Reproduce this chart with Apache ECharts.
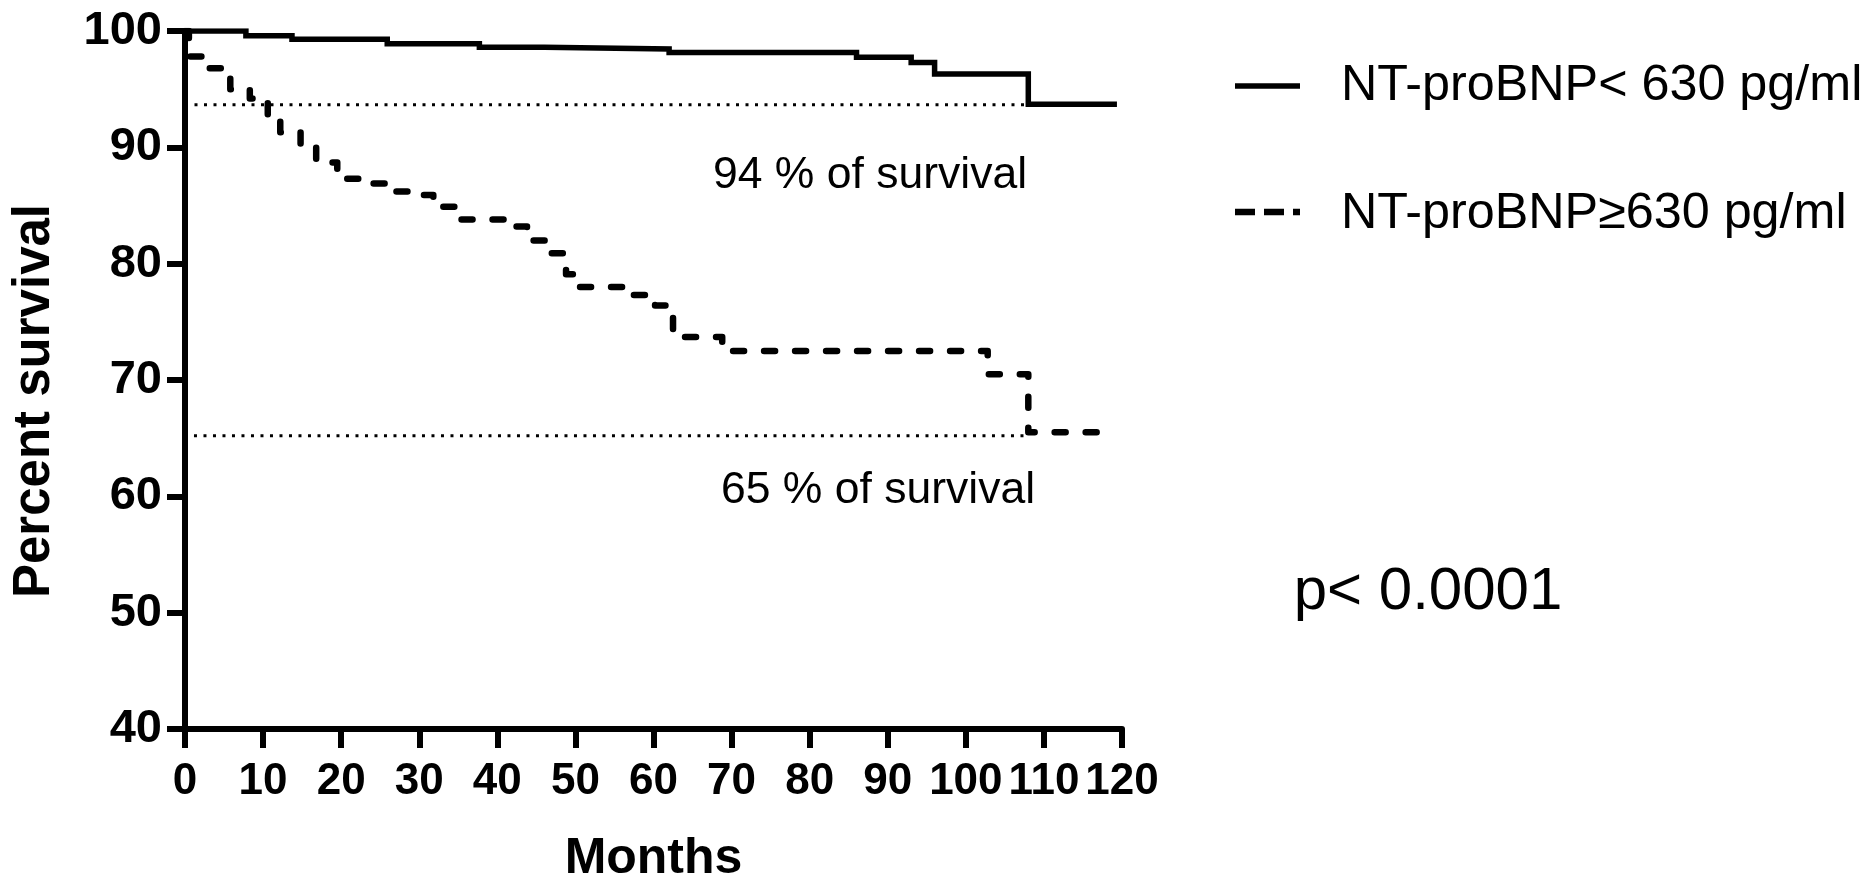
<!DOCTYPE html>
<html>
<head>
<meta charset="utf-8">
<script src="https://cdn.jsdelivr.net/npm/echarts@6/dist/echarts.min.js"></script>
<style>
html,body{margin:0;padding:0;background:#fff;}
#chart{width:1873px;height:889px;}
</style>
</head>
<body>
<div id="chart"></div>
<script>
// ---- data ----
const seriesNames = ['NT-proBNP< 630 pg/ml', 'NT-proBNP\u2265630 pg/ml'];
const lowTimes = [0, 7.8, 13.7, 25.9, 37.7, 46, 62, 86, 93, 96, 108, 119];
const lowSurv  = [100, 99.6, 99.3, 98.9, 98.6, 98.45, 98.15, 97.75, 97.3, 96.3, 93.7, 93.7];
const highTimes = [0, 0.5, 3.0, 5.8, 8.3, 10.6, 12.2, 14.8, 16.8, 19.5, 22.2, 25.9, 28.8, 31.8, 35.0, 41.6, 43.8, 46.5, 48.8, 50.3, 57.3, 60.2, 62.5, 68.8, 102.8, 108, 119];
const highSurv  = [100, 97.8, 96.8, 95.0, 94.2, 92.6, 91.3, 90.0, 88.7, 87.3, 86.9, 86.2, 85.9, 84.9, 83.8, 83.2, 82.0, 80.9, 79.1, 78.0, 77.3, 76.4, 73.7, 72.5, 70.5, 65.5, 65.5];
const refLowX = [0, 108];
const refLowY = [93.65, 93.65];
const refHighX = [-2.5, 108];
const refHighY = [65.2, 65.2];
const xTicks = {min: 0, max: 120, interval: 10};
const yTicks = {min: 40, max: 100, interval: 10};
const annotations = ['94 % of survival', '65 % of survival', 'p< 0.0001'];
const axisTitles = {x: 'Months', y: 'Percent survival'};

const zip = (xs, ys) => xs.map((x, i) => [x, ys[i]]);
const FONT = "'Liberation Sans', Arial, Helvetica, sans-serif";

// fit legend font size to the reference text width
const ctx = document.createElement('canvas').getContext('2d');
ctx.font = "100px " + FONT;
const w100 = ctx.measureText(seriesNames[0]).width;
const legendSize = Math.round(521 / w100 * 100 * 10) / 10;

const chart = echarts.init(document.getElementById('chart'), null, {renderer: 'canvas'});
const option = {
  animation: false,
  backgroundColor: '#fff',
  grid: {left: 185, top: 31, width: 937, height: 700, containLabel: false},
  xAxis: {
    type: 'value', min: xTicks.min, max: xTicks.max, interval: xTicks.interval,
    name: axisTitles.x, nameLocation: 'middle', nameGap: 105,
    nameTextStyle: {fontFamily: FONT, fontWeight: 'bold', fontSize: 50, color: '#000'},
    axisLine: {show: true, onZero: false, lineStyle: {color: '#000', width: 6}},
    axisTick: {show: true, length: 19, lineStyle: {color: '#000', width: 6}},
    axisLabel: {margin: 31, fontFamily: FONT, fontWeight: 'bold', fontSize: 44, color: '#000',
                showMinLabel: true, showMaxLabel: true, hideOverlap: false},
    splitLine: {show: false}
  },
  yAxis: {
    type: 'value', min: yTicks.min, max: yTicks.max, interval: yTicks.interval,
    axisLine: {show: true, onZero: false, lineStyle: {color: '#000', width: 6}},
    axisTick: {show: true, length: 18, lineStyle: {color: '#000', width: 6}},
    axisLabel: {margin: 23, fontFamily: FONT, fontWeight: 'bold', fontSize: 47, color: '#000',
                showMinLabel: true, showMaxLabel: true},
    splitLine: {show: false}
  },
  series: [
    {
      name: 'ref94', type: 'line', data: zip(refLowX, refLowY), symbol: 'none', clip: false, z: 1,
      lineStyle: {color: '#000', width: 3, type: [3, 6.5]}, silent: true
    },
    {
      name: 'ref65', type: 'line', data: zip(refHighX, refHighY), symbol: 'none', clip: false, z: 1,
      lineStyle: {color: '#000', width: 3, type: [3, 6.5]}, silent: true
    },
    {
      name: seriesNames[0], type: 'line', step: 'end', data: zip(lowTimes, lowSurv), symbol: 'none', z: 3,
      lineStyle: {color: '#000', width: 5.5, cap: 'square', join: 'miter'}
    },
    {
      name: seriesNames[1], type: 'line', step: 'end', data: zip(highTimes, highSurv), symbol: 'none', z: 3,
      lineStyle: {color: '#000', width: 6.5, type: [11, 20], cap: 'round', join: 'round'}
    }
  ],
  graphic: [
    {type: 'text', rotation: Math.PI / 2, x: 35, y: 401,
     style: {text: axisTitles.y, fontFamily: FONT, fontWeight: 'bold', fontSize: 51, fill: '#000', align: 'center', verticalAlign: 'middle'}},
    {type: 'text', x: 870, y: 176,
     style: {text: annotations[0], fontFamily: FONT, fontSize: 44.5, fill: '#000', align: 'center', verticalAlign: 'middle'}},
    {type: 'text', x: 878, y: 491,
     style: {text: annotations[1], fontFamily: FONT, fontSize: 44.5, fill: '#000', align: 'center', verticalAlign: 'middle'}},
    {type: 'text', x: 1428, y: 592,
     style: {text: annotations[2], fontFamily: FONT, fontSize: 60, fill: '#000', align: 'center', verticalAlign: 'middle'}},
    // legend
    {type: 'line', shape: {x1: 1235, y1: 86, x2: 1300, y2: 86}, style: {stroke: '#000', lineWidth: 5.5}},
    {type: 'text', x: 1341, y: 86,
     style: {text: seriesNames[0], fontFamily: FONT, fontSize: legendSize, fill: '#000', align: 'left', verticalAlign: 'middle'}},
    {type: 'line', shape: {x1: 1235, y1: 212, x2: 1300, y2: 212}, style: {stroke: '#000', lineWidth: 6.5, lineDash: [20, 9]}},
    {type: 'text', x: 1341, y: 214,
     style: {text: seriesNames[1], fontFamily: FONT, fontSize: legendSize, fill: '#000', align: 'left', verticalAlign: 'middle'}}
  ]
};
chart.setOption(option);
</script>
</body>
</html>
